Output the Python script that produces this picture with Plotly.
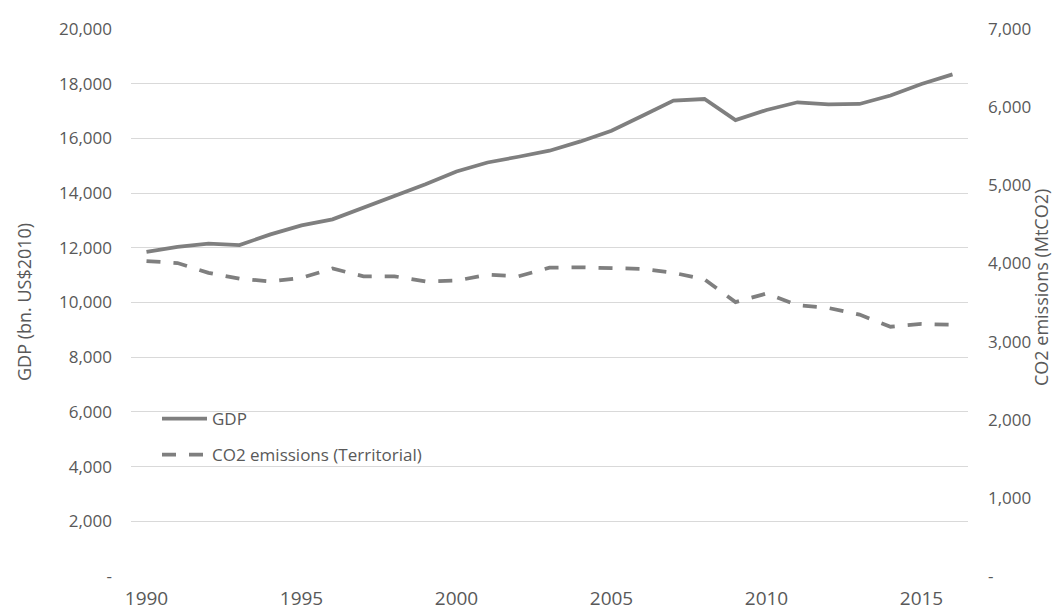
import plotly.graph_objects as go

years = list(range(1990, 2017))
gdp = [11850, 12030, 12150, 12100, 12490, 12820, 13040, 13470, 13900, 14320,
       14790, 15120, 15330, 15550, 15890, 16280, 16830, 17380, 17440, 16670,
       17040, 17320, 17240, 17260, 17570, 17990, 18340]
co2 = [4030, 4005, 3880, 3805, 3770, 3815, 3935, 3835, 3835, 3770,
       3780, 3855, 3835, 3945, 3950, 3935, 3930, 3880, 3795, 3505,
       3615, 3465, 3430, 3345, 3190, 3225, 3215]

left_ticks = [0, 2000, 4000, 6000, 8000, 10000, 12000, 14000, 16000, 18000, 20000]
left_labels = ["-", "2,000", "4,000", "6,000", "8,000", "10,000", "12,000",
               "14,000", "16,000", "18,000", "20,000"]
right_ticks = [0, 1000, 2000, 3000, 4000, 5000, 6000, 7000]
right_labels = ["-", "1,000", "2,000", "3,000", "4,000", "5,000", "6,000", "7,000"]
x_ticks = [1990, 1995, 2000, 2005, 2010, 2015]

GRAY = "#7f7f7f"
TXT = "#595959"
FONT = "Open Sans"

W, H = 1062, 612
L, R, T, B = 123, 102, 21, 44
PW = W - L - R
PH = H - T - B


def px_x(px):
    return (px - L) / PW


def px_y(py):
    return (H - B - py) / PH


fig = go.Figure()
fig.add_trace(go.Scatter(x=years, y=gdp, name="GDP", mode="lines",
                         line=dict(color=GRAY, width=3.75), yaxis="y",
                         legend="legend"))
fig.add_trace(go.Scatter(x=years, y=co2, name="CO2 emissions (Territorial)", mode="lines",
                         line=dict(color=GRAY, width=3.75, dash="14px,13px"), yaxis="y2",
                         legend="legend2"))

legend_common = dict(xanchor="left", yanchor="middle", bgcolor="rgba(0,0,0,0)",
                     borderwidth=0, itemwidth=45,
                     font=dict(family=FONT, size=17, color=TXT))

fig.update_layout(
    width=W, height=H,
    margin=dict(l=L, r=R, t=T, b=B, pad=0),
    paper_bgcolor="white", plot_bgcolor="white",
    font=dict(family=FONT, color=TXT, size=17),
    showlegend=True,
    legend=dict(x=px_x(149), y=px_y(411), **legend_common),
    legend2=dict(x=px_x(149), y=px_y(447), **legend_common),
    xaxis=dict(range=[1989.5, 2016.5], tickvals=x_ticks,
               ticktext=[str(v) for v in x_ticks], showgrid=False,
               showline=False, zeroline=False, ticks="", automargin=False,
               tickfont=dict(family=FONT, size=19, color=TXT),
               ticklabelstandoff=9),
    yaxis=dict(range=[0, 20000], tickvals=left_ticks, ticktext=left_labels,
               showgrid=True, gridcolor="#d9d9d9", gridwidth=1, zeroline=False,
               showline=False, ticks="", ticklabelstandoff=18, automargin=False,
               tickfont=dict(family=FONT, size=17, color=TXT)),
    yaxis2=dict(range=[0, 7000], tickvals=right_ticks, ticktext=right_labels,
                overlaying="y", side="right", showgrid=False, zeroline=False,
                showline=False, ticks="", ticklabelstandoff=19, automargin=False,
                tickfont=dict(family=FONT, size=17, color=TXT)),
    annotations=[
        dict(text="GDP (bn. US$2010)", x=px_x(16), y=px_y(294), xref="paper", yref="paper",
             xanchor="center", yanchor="middle",
             showarrow=False, textangle=-90, font=dict(family=FONT, size=18, color=TXT)),
        dict(text="CO2 emissions (MtCO2)", x=px_x(1033), y=px_y(280), xref="paper", yref="paper",
             xanchor="center", yanchor="middle",
             showarrow=False, textangle=-90, font=dict(family=FONT, size=18, color=TXT)),
    ],
)

fig.write_html("out.html")
